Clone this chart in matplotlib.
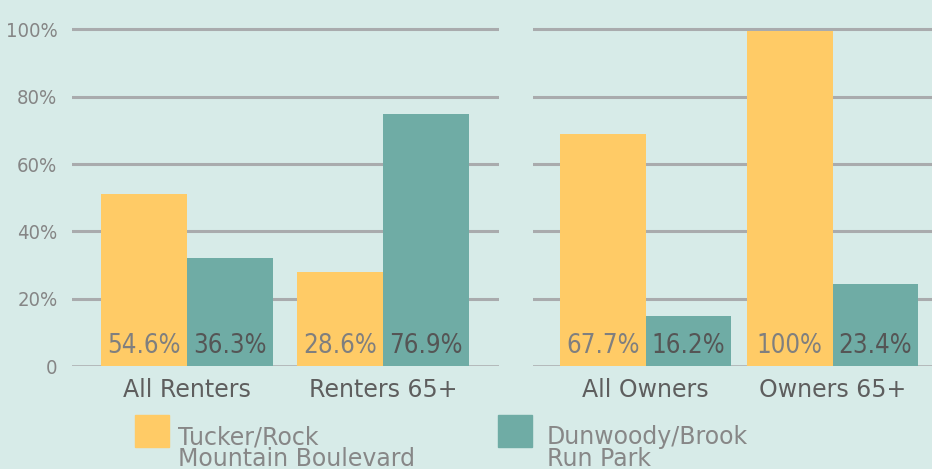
import numpy as np
import matplotlib.pyplot as plt
from matplotlib.patches import Rectangle

# data
groups_left = ['All Renters', 'Renters 65+']
groups_right = ['All Owners', 'Owners 65+']
tucker_left = [51, 28]
dunwoody_left = [32, 75]
tucker_right = [69, 99.5]
dunwoody_right = [15, 24.5]
labels_tucker_left = ['54.6%', '28.6%']
labels_dunwoody_left = ['36.3%', '76.9%']
labels_tucker_right = ['67.7%', '100%']
labels_dunwoody_right = ['16.2%', '23.4%']
series_names = ['Tucker/Rock\nMountain Boulevard', 'Dunwoody/Brook\nRun Park']
yticks = [0, 20, 40, 60, 80, 100]
yticklabels = ['0', '20%', '40%', '60%', '80%', '100%']

# styles
bg = '#d7ebe8'
yellow = '#ffcb66'
teal = '#6facA5'
gridc = '#a9abad'
narrow = dict(family='DejaVu Sans', fontstretch='condensed')

W, H = 932, 469
fig = plt.figure(figsize=(W / 100, H / 100), dpi=100, facecolor=bg)

# pixel layout: zero line at y=366, 100% at y=29.5
px_per_unit = (366 - 29.5) / 100
ytop = 105
ax_bottom = 1 - 366 / H
ax_height = ytop * px_per_unit / H


def make_panel(x0, x1, center0, spacing, barw_px, groups, tv, dv, tl, dl, show_y):
    ax = fig.add_axes([x0 / W, ax_bottom, (x1 - x0) / W, ax_height])
    ax.set_facecolor(bg)
    ax.set_xlim((x0 - center0) / spacing, (x1 - center0) / spacing)
    ax.set_ylim(0, ytop)
    bw = barw_px / spacing
    x = np.arange(len(groups))
    ax.bar(x - bw / 2, tv, width=bw, color=yellow, zorder=2)
    ax.bar(x + bw / 2, dv, width=bw, color=teal, zorder=2)
    for v in yticks:
        ax.axhline(v, color=gridc, lw=2.2 if v else 1.8, zorder=1)
    for i in range(len(groups)):
        ax.annotate(tl[i], (x[i] - bw / 2, 0), xytext=(0, 9.4), textcoords='offset points',
                    ha='center', va='baseline', fontsize=18.5, color='#7f7f7f', zorder=3, **narrow)
        ax.annotate(dl[i], (x[i] + bw / 2, 0), xytext=(0, 9.4), textcoords='offset points',
                    ha='center', va='baseline', fontsize=18.5, color='#555555', zorder=3, **narrow)
        ax.annotate(groups[i], (x[i], 0), xytext=(0, -22.3), textcoords='offset points',
                    ha='center', va='baseline', fontsize=17, color='#5e5e5e', annotation_clip=False)
    ax.set_xticks([])
    if show_y:
        ax.set_yticks(yticks)
        ax.set_yticklabels(yticklabels, fontsize=14.5, color='#858585', **narrow)
        ax.tick_params(axis='y', length=0, pad=10.5)
    else:
        ax.set_yticks([])
    for s in ax.spines.values():
        s.set_visible(False)
    return ax


make_panel(72, 499, 187, 196, 86, groups_left, tucker_left, dunwoody_left,
           labels_tucker_left, labels_dunwoody_left, True)
make_panel(533, 932, 645.5, 187, 85.7, groups_right, tucker_right, dunwoody_right,
           labels_tucker_right, labels_dunwoody_right, False)

# legend drawn by hand
for (sx, tx), name, col in zip([(135, 178), (498, 547)], series_names, [yellow, teal]):
    fig.patches.append(Rectangle((sx / W, 1 - 447 / H), 34 / W, 32 / H,
                                 transform=fig.transFigure, color=col))
    for k, line in enumerate(name.split('\n')):
        fig.text(tx / W, 1 - (444 + 22 * k) / H, line, ha='left', va='baseline',
                 fontsize=17, color='#878787')

fig.savefig('out.png', dpi=100, facecolor=bg)
